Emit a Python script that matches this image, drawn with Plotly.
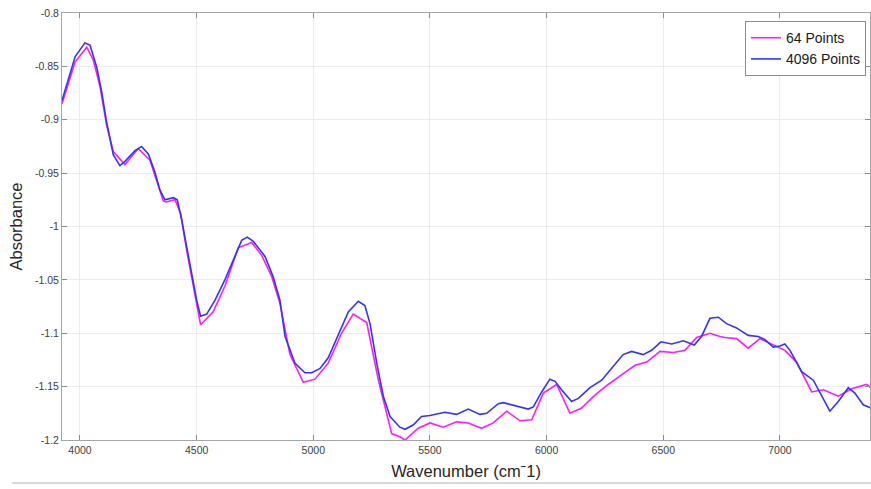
import plotly.graph_objects as go

# 64 Points series (magenta)
wn_64 = [3923, 3979, 4029, 4057, 4086, 4114, 4143, 4193, 4250, 4300, 4357, 4369, 4407, 4432,
         4457, 4486, 4517, 4571, 4621, 4678, 4736, 4779, 4822, 4857, 4900, 4957, 5007, 5064,
         5121, 5171, 5229, 5279, 5336, 5371, 5393, 5450, 5500, 5557, 5614, 5664, 5721, 5771,
         5829, 5886, 5936, 5986, 6043, 6100, 6150, 6207, 6264, 6321, 6379, 6429, 6486, 6543,
         6593, 6643, 6700, 6743, 6764, 6814, 6864, 6914, 6971, 7021, 7071, 7136, 7186, 7250,
         7307, 7371, 7390]
abs_64 = [-0.885, -0.846, -0.832, -0.844, -0.869, -0.905, -0.930, -0.942, -0.927, -0.938,
          -0.976, -0.977, -0.975, -0.988, -1.022, -1.056, -1.092, -1.080, -1.056, -1.020,
          -1.015, -1.027, -1.047, -1.072, -1.120, -1.146, -1.143, -1.128, -1.100, -1.082,
          -1.090, -1.144, -1.194, -1.197, -1.200, -1.189, -1.184, -1.188, -1.183, -1.184,
          -1.189, -1.184, -1.173, -1.182, -1.181, -1.156, -1.148, -1.175, -1.170, -1.158,
          -1.148, -1.139, -1.130, -1.127, -1.117, -1.118, -1.116, -1.104, -1.100, -1.103,
          -1.104, -1.105, -1.114, -1.105, -1.111, -1.116, -1.127, -1.155, -1.153, -1.159,
          -1.152, -1.148, -1.151]

# 4096 Points series (blue)
wn_4096 = [3923, 3979, 4021, 4043, 4072, 4093, 4114, 4143, 4171, 4193, 4236, 4264, 4293, 4321,
           4343, 4364, 4400, 4417, 4436, 4457, 4479, 4500, 4517, 4543, 4579, 4621, 4664, 4693,
           4717, 4743, 4793, 4828, 4857, 4879, 4921, 4964, 4993, 5029, 5064, 5114, 5150, 5193,
           5221, 5243, 5272, 5300, 5329, 5371, 5393, 5428, 5464, 5500, 5564, 5614, 5664, 5714,
           5743, 5793, 5814, 5921, 5943, 5979, 6014, 6036, 6064, 6107, 6136, 6186, 6236, 6286,
           6328, 6364, 6414, 6450, 6490, 6536, 6586, 6633, 6664, 6700, 6736, 6771, 6814, 6864,
           6907, 6936, 6971, 7000, 7021, 7043, 7093, 7143, 7179, 7214, 7250, 7293, 7321, 7357,
           7390]
abs_4096 = [-0.882, -0.841, -0.828, -0.830, -0.851, -0.874, -0.902, -0.933, -0.943, -0.939,
            -0.929, -0.925, -0.932, -0.949, -0.966, -0.975, -0.973, -0.975, -0.994, -1.019,
            -1.047, -1.069, -1.084, -1.082, -1.069, -1.050, -1.028, -1.013, -1.010, -1.014,
            -1.028, -1.047, -1.069, -1.103, -1.128, -1.137, -1.137, -1.133, -1.123, -1.097,
            -1.080, -1.070, -1.074, -1.091, -1.128, -1.159, -1.178, -1.188, -1.190, -1.186,
            -1.178, -1.177, -1.174, -1.176, -1.171, -1.176, -1.175, -1.166, -1.165, -1.171,
            -1.169, -1.155, -1.143, -1.145, -1.153, -1.164, -1.161, -1.151, -1.144, -1.131,
            -1.120, -1.117, -1.120, -1.116, -1.108, -1.110, -1.107, -1.111, -1.103, -1.086,
            -1.085, -1.091, -1.095, -1.102, -1.103, -1.106, -1.113, -1.112, -1.110, -1.116,
            -1.136, -1.144, -1.158, -1.173, -1.164, -1.151, -1.156, -1.167, -1.170]

x_ticks = [4000, 4500, 5000, 5500, 6000, 6500, 7000]
x_tick_labels = ["4000", "4500", "5000", "5500", "6000", "6500", "7000"]
y_ticks = [-0.8, -0.85, -0.9, -0.95, -1.0, -1.05, -1.1, -1.15, -1.2]
y_tick_labels = ["-0.8", "-0.85", "-0.9", "-0.95", "-1", "-1.05", "-1.1", "-1.15", "-1.2"]

FONT = "Liberation Sans, Arial, Helvetica, sans-serif"

fig = go.Figure()
fig.add_trace(go.Scatter(x=wn_64, y=abs_64, mode="lines", name="64 Points",
                         line=dict(color="#ff1aff", width=1.6)))
fig.add_trace(go.Scatter(x=wn_4096, y=abs_4096, mode="lines", name="4096 Points",
                         line=dict(color="#3333ff", width=1.6)))

axis_common = dict(
    showline=True, linecolor="#a6a6a6", linewidth=1, mirror="allticks",
    ticks="inside", ticklen=5, tickcolor="#8c8c8c", tickwidth=1,
    showgrid=True, gridcolor="#ececec", gridwidth=1, zeroline=False,
    tickfont=dict(family=FONT, size=10.5, color="#404040"),
)

fig.update_layout(
    width=871, height=489,
    margin=dict(l=62, r=1, t=13, b=49),
    paper_bgcolor="white", plot_bgcolor="white",
    font=dict(family=FONT, color="#262626"),
    xaxis=dict(range=[3923, 7386], tickvals=x_ticks, ticktext=x_tick_labels,
               title=dict(text="Wavenumber (cm\u02c91)", font=dict(family=FONT, size=16.5, color="#262626"),
                          standoff=10),
               **axis_common),
    yaxis=dict(range=[-1.2, -0.8], tickvals=y_ticks, ticktext=y_tick_labels,
               title=dict(text="Absorbance", font=dict(family=FONT, size=16.5, color="#262626"),
                          standoff=8),
               **axis_common),
    legend=dict(x=0.995, y=0.981, xanchor="right", yanchor="top",
                bgcolor="white", bordercolor="#8c8c8c", borderwidth=1,
                font=dict(family=FONT, size=14, color="#1a1a1a"),
                tracegroupgap=0, itemwidth=30),
    showlegend=True,
    shapes=[dict(type="line", xref="paper", yref="paper",
                 x0=(12 - 62) / 808, x1=1.01, y0=-0.1007, y1=-0.1007,
                 line=dict(color="#b4b4b4", width=1.2))],
)

fig.write_html("out.html")
